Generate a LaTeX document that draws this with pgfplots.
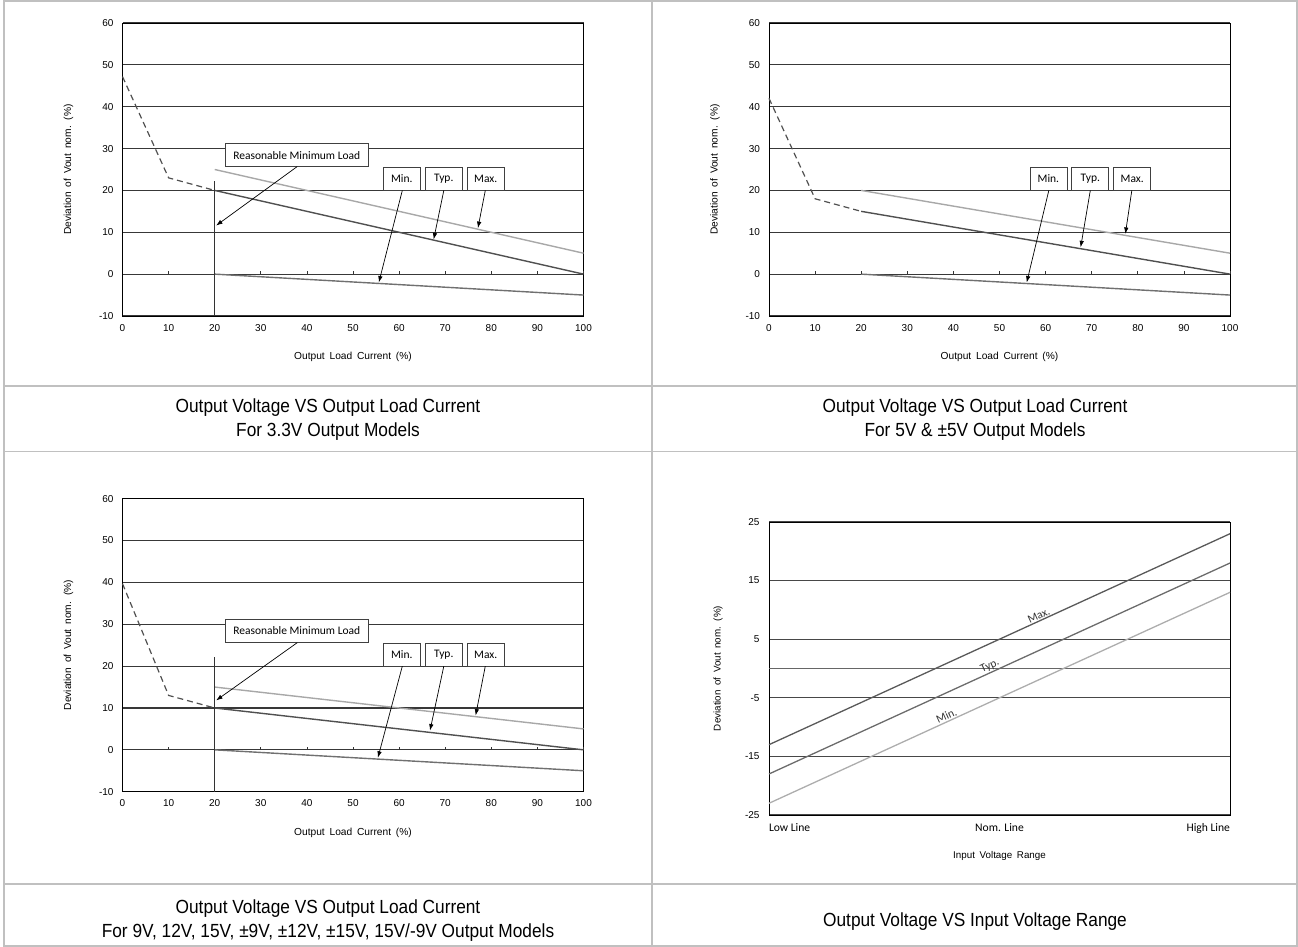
\documentclass[border=0pt]{standalone}
\usepackage{fontspec}
\setmainfont{Liberation Sans}
\newfontfamily\capfont[FakeStretch=0.91]{Liberation Sans}
\newfontfamily\gfont[WordSpace={1.7}]{Liberation Sans}
\newfontfamily\cfont{Carlito}
\usepackage{pgfplots}
\pgfplotsset{compat=1.18}
\usetikzlibrary{arrows.meta}
\definecolor{tblgray}{HTML}{C0C0C0}
\definecolor{typc}{HTML}{505050}
\definecolor{maxc}{HTML}{A8A8A8}
\definecolor{minc}{HTML}{707070}
\pgfplotsset{
  loadstyle/.style={
    scale only axis, width=461pt, height=293pt,
    xmin=0, xmax=100, ymin=-10, ymax=60,
    xtick={0,10,...,100}, ytick={-10,0,...,60},
    major tick length=0pt,
    ymajorgrids, major grid style={black!78, line width=1.1pt},
    axis line style={black, line width=0.8pt},
    tick label style={font=\gfont\fontsize{10}{12}\selectfont},
    /pgf/number format/assume math mode=true,
    xticklabel style={yshift=-4.5pt},
    yticklabel style={xshift=-5.5pt},
    xlabel={Output Load Current (\%)},
    ylabel={Deviation of Vout nom. (\%)},
    label style={font=\gfont\fontsize{10.2}{12}\selectfont},
    xlabel style={at={(axis description cs:0.5,-0.14)}, anchor=center},
    ylabel style={at={(axis description cs:-0.117,0.5)}, anchor=center},
    clip=false,
  },
  dashc/.style={typc, line width=1.2pt, dash pattern=on 6pt off 4pt},
  typl/.style={typc, line width=1.4pt},
  maxl/.style={maxc, line width=1.4pt},
  minl/.style={minc, line width=1.4pt},
  vl/.style={black!80, line width=1pt},
}
\tikzset{
  arr/.style={black, line width=0.7pt, -{Latex[length=6.5pt,width=4.5pt]}},
  lbox/.style={draw=black!75, fill=white, line width=0.7pt, minimum height=23pt, inner sep=0pt, font=\cfont\fontsize{11.5}{13}\selectfont},
  tk/.style={black!80, line width=0.8pt},
}
\begin{document}
\begin{tikzpicture}[x=1pt,y=1pt]
\useasboundingbox (0,0) rectangle (1298,947);
% table frame
\draw[tblgray, line width=1.6pt] (4,946) rectangle (1297,1);
\draw[tblgray, line width=1.6pt] (652,946) -- (652,1);
\draw[tblgray, line width=1.6pt] (4,561) -- (1297,561);
\draw[tblgray, line width=1.6pt] (4,495.5) -- (1297,495.5);
\draw[tblgray, line width=1.6pt] (4,63) -- (1297,63);

% ---------- Chart 1 ----------
\begin{axis}[loadstyle, at={(122.5pt,631pt)}, anchor=south west]
\addplot[dashc] coordinates {(0,47.2) (10,23) (20,20)};
\addplot[maxl] coordinates {(20,25) (100,5)};
\addplot[typl] coordinates {(20,20) (100,0)};
\addplot[minl] coordinates {(20,0) (100,-5)};
\addplot[vl] coordinates {(20,-10) (20,22.3)};
\pgfplotsinvokeforeach{10,20,...,100}{\draw[tk] (axis cs:#1,0) -- ++(0pt,3pt);}
\node[lbox, minimum width=143pt] at (axis cs:37.8,28.4) {Reasonable Minimum Load};
\node[lbox, minimum width=37pt] at (axis cs:60.6,22.75) {Min.};
\node[lbox, minimum width=37pt] at (axis cs:69.7,22.75) {Typ.};
\node[lbox, minimum width=37pt] at (axis cs:78.8,22.75) {Max.};
\draw[arr] (axis cs:37.9,25.7) -- (axis cs:20.3,11.6);
\draw[arr] (axis cs:60.7,20) -- (axis cs:55.6,-2.0);
\draw[arr] (axis cs:69.7,20) -- (axis cs:67.5,8.3);
\draw[arr] (axis cs:78.7,20) -- (axis cs:77.1,11.0);
\end{axis}

% ---------- Chart 2 ----------
\begin{axis}[loadstyle, at={(769pt,631pt)}, anchor=south west]
\addplot[dashc] coordinates {(0,42) (10,18) (20,15)};
\addplot[maxl] coordinates {(20,20) (100,5)};
\addplot[typl] coordinates {(20,15) (100,0)};
\addplot[minl] coordinates {(20,0) (100,-5)};
\pgfplotsinvokeforeach{10,20,...,100}{\draw[tk] (axis cs:#1,0) -- ++(0pt,3pt);}
\node[lbox, minimum width=37pt] at (axis cs:60.6,22.75) {Min.};
\node[lbox, minimum width=37pt] at (axis cs:69.7,22.75) {Typ.};
\node[lbox, minimum width=37pt] at (axis cs:78.8,22.75) {Max.};
\draw[arr] (axis cs:60.7,20) -- (axis cs:55.9,-2.0);
\draw[arr] (axis cs:69.7,20) -- (axis cs:67.6,6.4);
\draw[arr] (axis cs:78.7,20) -- (axis cs:77.3,9.6);
\end{axis}

% ---------- Chart 3 ----------
\begin{axis}[loadstyle, at={(122.5pt,155.3pt)}, anchor=south west]
\addplot[dashc] coordinates {(0,39.7) (10,13) (20,10)};
\addplot[maxl] coordinates {(20,15) (100,5)};
\addplot[typl] coordinates {(20,10) (100,0)};
\addplot[minl] coordinates {(20,0) (100,-5)};
\addplot[vl] coordinates {(20,-10) (20,22.2)};
\pgfplotsinvokeforeach{10,20,...,100}{\draw[tk] (axis cs:#1,0) -- ++(0pt,3pt);}
\node[lbox, minimum width=143pt] at (axis cs:37.8,28.4) {Reasonable Minimum Load};
\node[lbox, minimum width=37pt] at (axis cs:60.6,22.75) {Min.};
\node[lbox, minimum width=37pt] at (axis cs:69.7,22.75) {Typ.};
\node[lbox, minimum width=37pt] at (axis cs:78.8,22.75) {Max.};
\draw[arr] (axis cs:37.9,25.6) -- (axis cs:20.3,11.8);
\draw[arr] (axis cs:60.7,20) -- (axis cs:55.4,-1.9);
\draw[arr] (axis cs:69.7,20) -- (axis cs:66.7,4.6);
\draw[arr] (axis cs:78.7,20) -- (axis cs:76.6,8.2);
\end{axis}

% ---------- Chart 4 ----------
\begin{axis}[
  scale only axis, width=461pt, height=293pt,
  at={(769pt,132pt)}, anchor=south west,
  xmin=0, xmax=1, ymin=-25, ymax=25,
  xtick={0,0.5,1},
  xticklabels={\makebox[0pt][l]{Low Line}, Nom. Line, \makebox[0pt][r]{High Line}},
  ytick={-25,-15,-5,5,15,25},
  extra y ticks={0}, extra y tick labels={},
  major tick length=0pt,
  ymajorgrids, major grid style={black!72, line width=1.1pt},
  extra tick style={grid=major, major grid style={black!60, line width=1.1pt}},
  axis line style={black, line width=0.8pt},
  yticklabel style={font=\gfont\fontsize{10}{12}\selectfont, xshift=-6pt},
  /pgf/number format/assume math mode=true,
  xticklabel style={font=\cfont\fontsize{11.6}{13}\selectfont, yshift=-5pt, anchor=north},
  xlabel={Input Voltage Range},
  ylabel={Deviation of Vout nom. (\%)},
  label style={font=\gfont\fontsize{9.8}{12}\selectfont},
  xlabel style={at={(axis description cs:0.5,-0.14)}, anchor=center},
  ylabel style={at={(axis description cs:-0.1106,0.5)}, anchor=center},
  clip=false,
]
\addplot[black!65, line width=1.3pt] coordinates {(0,-13) (1,23)}
  node[pos=0.59, sloped, above, inner sep=1pt, font=\cfont\fontsize{11.5}{13}\selectfont, text=black!80] {Max.};
\addplot[black!58, line width=1.3pt] coordinates {(0,-18) (1,18)}
  node[pos=0.485, sloped, above, inner sep=1pt, font=\cfont\fontsize{11.5}{13}\selectfont, text=black!80] {Typ.};
\addplot[black!32, line width=1.3pt] coordinates {(0,-23) (1,13)}
  node[pos=0.39, sloped, above, inner sep=1pt, font=\cfont\fontsize{11.5}{13}\selectfont, text=black!80] {Min.};
\end{axis}

% ---------- Captions ----------
\begin{scope}[every node/.style={font=\capfont\fontsize{19}{23}\selectfont, anchor=base}]
\node at (328,947-413) {Output Voltage VS Output Load Current};
\node at (328,947-437) {For 3.3V Output Models};
\node at (975,947-413) {Output Voltage VS Output Load Current};
\node at (975,947-437) {For 5V \& ±5V Output Models};
\node at (328,947-914) {Output Voltage VS Output Load Current};
\node at (328,947-938) {For 9V, 12V, 15V, ±9V, ±12V, ±15V, 15V/-9V Output Models};
\node at (975,947-927) {Output Voltage VS Input Voltage Range};
\end{scope}
\end{tikzpicture}
\end{document}
